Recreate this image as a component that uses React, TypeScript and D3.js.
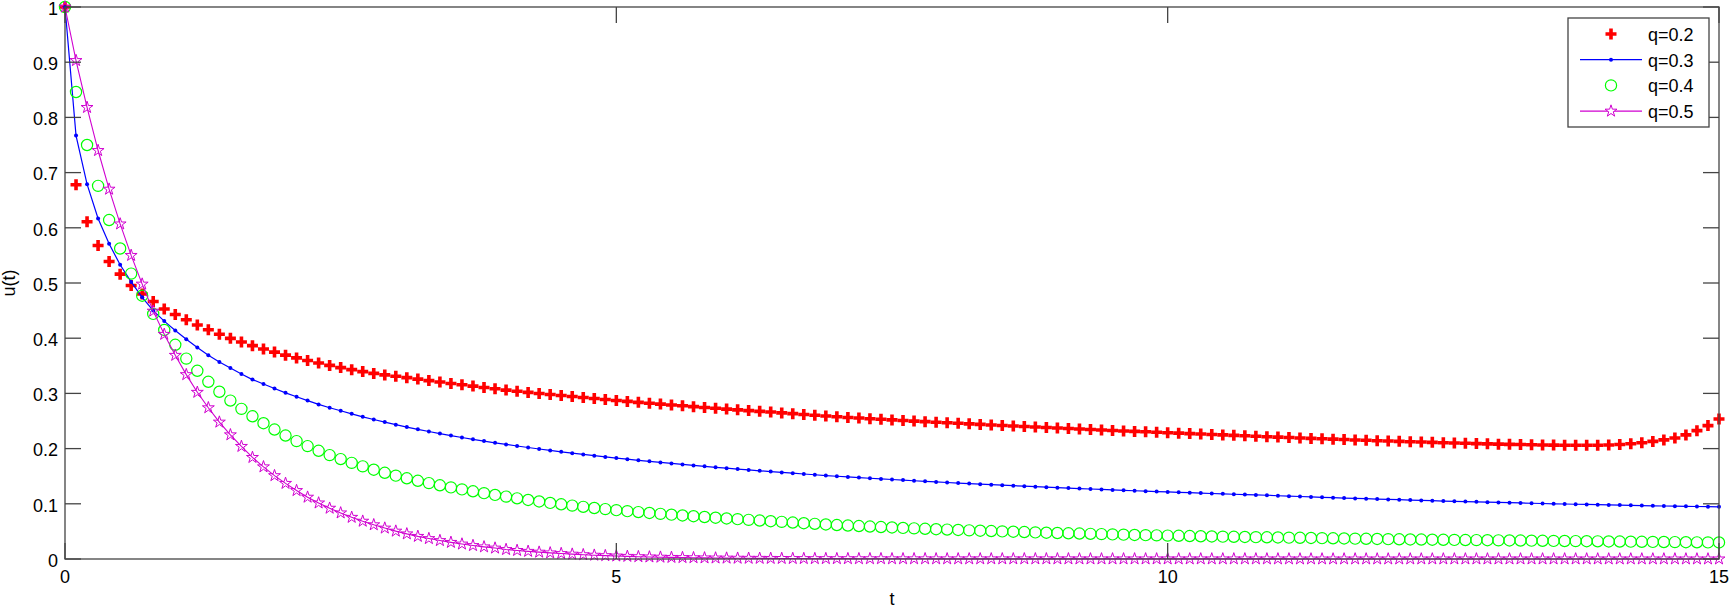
import React from 'react';
import * as d3 from 'd3';

const T = [
  0, 0.1, 0.2, 0.3, 0.4, 0.5, 0.6, 0.7, 0.8, 0.9,
  1, 1.1, 1.2, 1.3, 1.4, 1.5, 1.6, 1.7, 1.8, 1.9,
  2, 2.1, 2.2, 2.3, 2.4, 2.5, 2.6, 2.7, 2.8, 2.9,
  3, 3.1, 3.2, 3.3, 3.4, 3.5, 3.6, 3.7, 3.8, 3.9,
  4, 4.1, 4.2, 4.3, 4.4, 4.5, 4.6, 4.7, 4.8, 4.9,
  5, 5.1, 5.2, 5.3, 5.4, 5.5, 5.6, 5.7, 5.8, 5.9,
  6, 6.1, 6.2, 6.3, 6.4, 6.5, 6.6, 6.7, 6.8, 6.9,
  7, 7.1, 7.2, 7.3, 7.4, 7.5, 7.6, 7.7, 7.8, 7.9,
  8, 8.1, 8.2, 8.3, 8.4, 8.5, 8.6, 8.7, 8.8, 8.9,
  9, 9.1, 9.2, 9.3, 9.4, 9.5, 9.6, 9.7, 9.8, 9.9,
  10, 10.1, 10.2, 10.3, 10.4, 10.5, 10.6, 10.7, 10.8, 10.9,
  11, 11.1, 11.2, 11.3, 11.4, 11.5, 11.6, 11.7, 11.8, 11.9,
  12, 12.1, 12.2, 12.3, 12.4, 12.5, 12.6, 12.7, 12.8, 12.9,
  13, 13.1, 13.2, 13.3, 13.4, 13.5, 13.6, 13.7, 13.8, 13.9,
  14, 14.1, 14.2, 14.3, 14.4, 14.5, 14.6, 14.7, 14.8, 14.9,
  15,
];

const Q02 = [
  1.0, 0.678, 0.611, 0.568, 0.539, 0.516, 0.4955, 0.48, 0.4665, 0.453,
  0.443, 0.4335, 0.424, 0.4152, 0.4072, 0.3997, 0.393, 0.3865, 0.3805, 0.3748,
  0.3693, 0.3643, 0.3595, 0.355, 0.3507, 0.3467, 0.343, 0.3395, 0.3362, 0.3335,
  0.331, 0.3285, 0.3259, 0.3232, 0.3206, 0.318, 0.3156, 0.3132, 0.3107, 0.3083,
  0.306, 0.304, 0.3018, 0.2999, 0.2981, 0.2963, 0.2944, 0.2926, 0.2908, 0.289,
  0.2872, 0.2855, 0.2838, 0.2822, 0.2806, 0.279, 0.2775, 0.276, 0.2745, 0.273,
  0.2716, 0.2702, 0.2688, 0.2675, 0.2662, 0.2647, 0.2633, 0.2619, 0.2605, 0.2591,
  0.2577, 0.2564, 0.2553, 0.2542, 0.2531, 0.252, 0.2509, 0.2498, 0.2488, 0.2478,
  0.2468, 0.2458, 0.2448, 0.2438, 0.2428, 0.2418, 0.2409, 0.24, 0.2391, 0.2382,
  0.2373, 0.2364, 0.2355, 0.2346, 0.2337, 0.2328, 0.232, 0.2312, 0.2304, 0.2296,
  0.2288, 0.228, 0.2272, 0.2264, 0.2256, 0.2248, 0.224, 0.2232, 0.2224, 0.2216,
  0.2208, 0.22, 0.2192, 0.2185, 0.2178, 0.2171, 0.2164, 0.2157, 0.215, 0.2143,
  0.2137, 0.2131, 0.2125, 0.2119, 0.2113, 0.2107, 0.2101, 0.2096, 0.2091, 0.2086,
  0.2081, 0.2077, 0.2073, 0.2069, 0.2066, 0.2063, 0.2061, 0.206, 0.206, 0.2061,
  0.2064, 0.2073, 0.2088, 0.2107, 0.213, 0.2158, 0.2193, 0.2248, 0.2325, 0.2417,
  0.2535,
];

const Q03 = [
  1.0, 0.767, 0.679, 0.617, 0.571, 0.533, 0.502, 0.474, 0.45, 0.431,
  0.414, 0.398, 0.383, 0.369, 0.357, 0.346, 0.335, 0.325, 0.317, 0.309,
  0.301, 0.294, 0.287, 0.28, 0.274, 0.2685, 0.263, 0.2576, 0.2527, 0.248,
  0.2434, 0.239, 0.2349, 0.231, 0.2272, 0.2236, 0.2201, 0.2168, 0.2136, 0.2105,
  0.2076, 0.2047, 0.202, 0.1993, 0.1967, 0.1942, 0.1918, 0.1895, 0.1872, 0.185,
  0.1829, 0.1808, 0.1788, 0.1769, 0.175, 0.1731, 0.1713, 0.1695, 0.1678, 0.1661,
  0.1645, 0.1629, 0.1613, 0.1598, 0.1583, 0.1568, 0.1554, 0.154, 0.1526, 0.1512,
  0.1499, 0.1487, 0.1475, 0.1463, 0.1451, 0.144, 0.1429, 0.1418, 0.1407, 0.1396,
  0.1386, 0.1376, 0.1366, 0.1356, 0.1346, 0.1337, 0.1328, 0.1319, 0.131, 0.1301,
  0.1292, 0.1284, 0.1276, 0.1268, 0.126, 0.1252, 0.1244, 0.1236, 0.1229, 0.1222,
  0.1215, 0.1208, 0.1201, 0.1194, 0.1187, 0.118, 0.1173, 0.1167, 0.1161, 0.1155,
  0.1146, 0.1139, 0.1132, 0.1125, 0.1118, 0.1111, 0.1104, 0.1098, 0.1092, 0.1086,
  0.108, 0.1074, 0.1068, 0.1062, 0.1056, 0.105, 0.1045, 0.104, 0.1035, 0.103,
  0.1025, 0.102, 0.1015, 0.101, 0.1005, 0.1, 0.0996, 0.0992, 0.0988, 0.0984,
  0.098, 0.0976, 0.0972, 0.0968, 0.0964, 0.096, 0.0957, 0.0954, 0.0951, 0.0948,
  0.0946,
];

const Q04 = [
  1.0, 0.846, 0.75, 0.676, 0.614, 0.5625, 0.517, 0.477, 0.444, 0.415,
  0.388, 0.363, 0.341, 0.321, 0.303, 0.287, 0.272, 0.2585, 0.246, 0.2345,
  0.2237, 0.2136, 0.2045, 0.196, 0.1882, 0.181, 0.1742, 0.1678, 0.1618, 0.1562,
  0.151, 0.1462, 0.1417, 0.1375, 0.1335, 0.1297, 0.1261, 0.1226, 0.1193, 0.1161,
  0.113, 0.1099, 0.107, 0.1042, 0.1016, 0.0991, 0.0967, 0.0945, 0.0924, 0.0904,
  0.0885, 0.0867, 0.085, 0.0834, 0.0818, 0.0803, 0.0789, 0.0775, 0.0761, 0.0748,
  0.0735, 0.0722, 0.0709, 0.0697, 0.0685, 0.0673, 0.0661, 0.0649, 0.0637, 0.0626,
  0.0615, 0.0606, 0.0597, 0.0588, 0.0579, 0.0571, 0.0563, 0.0555, 0.0547, 0.054,
  0.0533, 0.0526, 0.0519, 0.0512, 0.0506, 0.05, 0.0494, 0.0488, 0.0482, 0.0476,
  0.0471, 0.0466, 0.0461, 0.0456, 0.0451, 0.0446, 0.0441, 0.0436, 0.0432, 0.0428,
  0.0424, 0.042, 0.0416, 0.0412, 0.0408, 0.0405, 0.0402, 0.0399, 0.0396, 0.0393,
  0.039, 0.0387, 0.0384, 0.0381, 0.0378, 0.0375, 0.0372, 0.0369, 0.0366, 0.0363,
  0.036, 0.0357, 0.0354, 0.0352, 0.035, 0.0348, 0.0346, 0.0344, 0.0342, 0.034,
  0.0338, 0.0336, 0.0334, 0.0332, 0.033, 0.0328, 0.0326, 0.0324, 0.0322, 0.032,
  0.0318, 0.0316, 0.0314, 0.0312, 0.031, 0.0308, 0.0306, 0.0304, 0.0302, 0.0301,
  0.03,
];

const Q05 = [
  1.0, 0.903, 0.818, 0.74, 0.67, 0.607, 0.55, 0.498, 0.449, 0.407,
  0.369, 0.334, 0.302, 0.274, 0.248, 0.225, 0.204, 0.184, 0.167, 0.151,
  0.137, 0.124, 0.112, 0.1015, 0.092, 0.0835, 0.0755, 0.0685, 0.062, 0.056,
  0.0505, 0.0455, 0.041, 0.037, 0.0334, 0.0301, 0.0271, 0.0244, 0.022, 0.0198,
  0.0172, 0.0155, 0.0139, 0.0124, 0.0111, 0.0099, 0.0088, 0.0078, 0.0069, 0.0061,
  0.0054, 0.0048, 0.0042, 0.0037, 0.0033, 0.0029, 0.0026, 0.0023, 0.002, 0.0018,
  0.0016, 0.0014, 0.0013, 0.0012, 0.0011, 0.001, 0.0009, 0.0008, 0.0007, 0.0007,
  0.0006, 0.0006, 0.0005, 0.0005, 0.0005, 0.0004, 0.0004, 0.0004, 0.0004, 0.0003,
  0.0003, 0.0003, 0.0003, 0.0003, 0.0003, 0.0003, 0.0003, 0.0003, 0.0003, 0.0003,
  0.0003, 0.0003, 0.0002, 0.0002, 0.0002, 0.0002, 0.0002, 0.0002, 0.0002, 0.0002,
  0.0002, 0.0002, 0.0002, 0.0002, 0.0002, 0.0002, 0.0002, 0.0002, 0.0002, 0.0002,
  0.0002, 0.0002, 0.0001, 0.0001, 0.0001, 0.0001, 0.0001, 0.0001, 0.0001, 0.0001,
  0.0001, 0.0001, 0.0001, 0.0001, 0.0001, 0.0001, 0.0001, 0.0001, 0.0001, 0.0001,
  0.0001, 0.0001, 0.0001, 0.0001, 0.0001, 0.0001, 0.0001, 0.0001, 0.0001, 0.0001,
  0.0001, 0.0001, 0.0001, 0.0001, 0.0001, 0.0001, 0.0001, 0.0001, 0.0001, 0.0001,
  0.0001,
];

const X_TICKS = [0, 5, 10, 15];
const Y_TICKS = [0, 0.1, 0.2, 0.3, 0.4, 0.5, 0.6, 0.7, 0.8, 0.9, 1];
const Y_TICK_LABELS = ['0', '0.1', '0.2', '0.3', '0.4', '0.5', '0.6', '0.7', '0.8', '0.9', '1'];
const LEGEND_LABELS = ['q=0.2', 'q=0.3', 'q=0.4', 'q=0.5'];
const X_LABEL = 't';
const Y_LABEL = 'u(t)';

const FONT = '"Liberation Sans", Arial, Helvetica, sans-serif';
const AXIS_COLOR = '#444';
const RED = '#ff0000';
const BLUE = '#0000ff';
const GREEN = '#00ff00';
const MAGENTA = '#d000d0';

const crossPath = 'M-5.5,0H5.5M0,-5.5V5.5';
const starPath = d3.symbol(d3.symbolStar, 44)() as string;

export default function App() {
  const left = 65, right = 1719, top = 7, bottom = 559;
  const x = d3.scaleLinear().domain([0, 15]).range([left, right]);
  const y = d3.scaleLinear().domain([0, 1]).range([bottom, top]);
  const tickLen = 16;

  const line = (vals: number[]) =>
    d3.line<number>().x((_, i) => x(T[i])).y((v) => y(v))(vals) as string;

  const legendX = 1568, legendY = 18, legendW = 141, legendH = 109;
  const rowY = (i: number) => legendY + 16 + i * 25.7;
  const lx1 = 1580, lx2 = 1642, lmx = 1611, ltx = 1648;

  return (
    <svg
      width={1730}
      height={610}
      style={{ position: 'absolute', left: 0, top: 0, background: '#fff' }}
      fontFamily={FONT}
    >
      <rect x={0} y={0} width={1730} height={610} fill="#fff" />

      {/* series q=0.2: red crosses */}
      <g stroke={RED} strokeWidth={3.6} fill="none">
        {Q02.map((v, i) => (
          <path key={i} d={crossPath} transform={`translate(${x(T[i])},${y(v)})`} />
        ))}
      </g>

      {/* series q=0.3: blue line with dots */}
      <path d={line(Q03)} fill="none" stroke={BLUE} strokeWidth={1.2} />
      <g fill={BLUE}>
        {Q03.map((v, i) => (
          <circle key={i} cx={x(T[i])} cy={y(v)} r={2} />
        ))}
      </g>

      {/* series q=0.4: green circles */}
      <g stroke={GREEN} strokeWidth={1.2} fill="none">
        {Q04.map((v, i) => (
          <circle key={i} cx={x(T[i])} cy={y(v)} r={5.6} />
        ))}
      </g>

      {/* series q=0.5: magenta line with stars */}
      <path d={line(Q05)} fill="none" stroke={MAGENTA} strokeWidth={1.1} />
      <g stroke={MAGENTA} strokeWidth={1} fill="none">
        {Q05.map((v, i) => (
          <path key={i} d={starPath} transform={`translate(${x(T[i])},${y(v)})`} />
        ))}
      </g>

      {/* axes box */}
      <rect x={left} y={top} width={right - left} height={bottom - top} fill="none" stroke={AXIS_COLOR} strokeWidth={1.3} />
      <g stroke={AXIS_COLOR} strokeWidth={1.3}>
        {Y_TICKS.map((v) => (
          <g key={v}>
            <line x1={left} x2={left + tickLen} y1={y(v)} y2={y(v)} />
            <line x1={right} x2={right - tickLen} y1={y(v)} y2={y(v)} />
          </g>
        ))}
        {X_TICKS.map((v) => (
          <g key={v}>
            <line x1={x(v)} x2={x(v)} y1={bottom} y2={bottom - tickLen} />
            <line x1={x(v)} x2={x(v)} y1={top} y2={top + tickLen} />
          </g>
        ))}
      </g>
      <g fontSize={18} fill="#000">
        {Y_TICKS.map((v, i) => (
          <text key={v} x={left - 7} y={y(v) + 1.8} textAnchor="end" dominantBaseline="central">
            {Y_TICK_LABELS[i]}
          </text>
        ))}
        {X_TICKS.map((v) => (
          <text key={v} x={x(v)} y={583} textAnchor="middle">
            {String(v)}
          </text>
        ))}
        <text x={(left + right) / 2} y={605} textAnchor="middle">{X_LABEL}</text>
        <text transform={`translate(15,${(top + bottom) / 2}) rotate(-90)`} textAnchor="middle">{Y_LABEL}</text>
      </g>

      {/* legend */}
      <rect x={legendX} y={legendY} width={legendW} height={legendH} fill="#fff" stroke={AXIS_COLOR} strokeWidth={1.3} />
      <path d={crossPath} transform={`translate(${lmx},${rowY(0)})`} stroke={RED} strokeWidth={3.6} fill="none" />
      <line x1={lx1} x2={lx2} y1={rowY(1)} y2={rowY(1)} stroke={BLUE} strokeWidth={1.2} />
      <circle cx={lmx} cy={rowY(1)} r={2} fill={BLUE} />
      <circle cx={lmx} cy={rowY(2)} r={5.6} fill="none" stroke={GREEN} strokeWidth={1.2} />
      <line x1={lx1} x2={lx2} y1={rowY(3)} y2={rowY(3)} stroke={MAGENTA} strokeWidth={1.1} />
      <path d={starPath} transform={`translate(${lmx},${rowY(3)})`} stroke={MAGENTA} strokeWidth={1} fill="#fff" />
      <g fontSize={18} fill="#000">
        {LEGEND_LABELS.map((s, i) => (
          <text key={s} x={ltx} y={rowY(i) + 1} dominantBaseline="central">{s}</text>
        ))}
      </g>
    </svg>
  );
}
